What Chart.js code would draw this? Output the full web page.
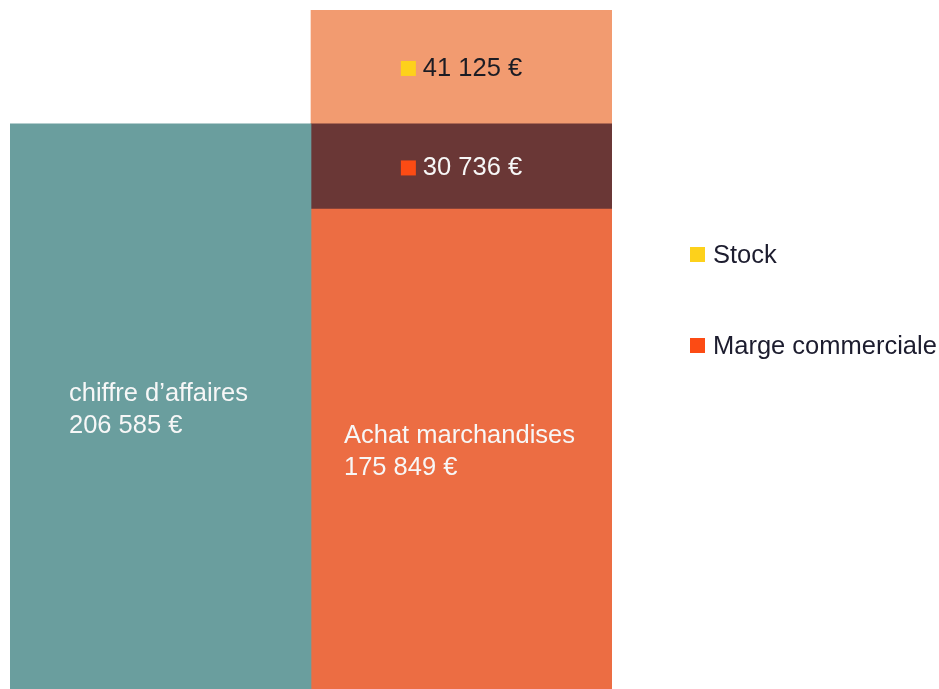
<!DOCTYPE html>
<html lang="fr">
<head>
<meta charset="utf-8">
<title>Chiffre d'affaires et achats</title>
<script src="https://cdn.jsdelivr.net/npm/chart.js@4/dist/chart.umd.min.js"></script>
<style>
  html, body { margin: 0; padding: 0; background: #ffffff; }
  #wrap { width: 939px; height: 689px; }
</style>
</head>
<body>
<div id="wrap"><canvas id="chart" width="939" height="689"></canvas></div>
<script>
// categories (one stacked column each)
const categories = ["Chiffre d'affaires", "Achats"];

// series values
const caValues = [206585, null];
const achatValues = [null, 175849];
const margeValues = [null, 30736];
const stockValues = [null, 41125];

// labels shown inside the bars
const caLabel = "chiffre d\u2019affaires";
const achatLabel = "Achat marchandises";

// legend entries
const legendLabels = ["Stock", "Marge commerciale"];
const legendColors = ["#fdd11b", "#fc4b14"];

// the original picture is cropped just above the zero line
const yAxisMin = 2500;

const FONT = '"Liberation Sans", Arial, sans-serif';
const FONT_SIZE = 25.5;
const TEXT_DY = 2; // "middle" baseline sits a bit high

function euro(v) {
    // french grouping with a space
    return String(v).replace(/\B(?=(\d{3})+(?!\d))/g, " ") + " \u20ac";
}

// text inside the bars + legend on the right
const barLabels = {
    id: "barLabels",
    afterDatasetsDraw(chart) {
        const ctx = chart.ctx;
        ctx.save();
        ctx.font = FONT_SIZE + "px " + FONT;
        ctx.textBaseline = "middle";

        // two-line block, left aligned, centered in its bar
        function block(dsIndex, title, dy) {
            const meta = chart.getDatasetMeta(dsIndex);
            meta.data.forEach((bar, i) => {
                const v = chart.data.datasets[dsIndex].data[i];
                if (v == null) return;
                const lines = [title, euro(v)];
                const w = Math.max(...lines.map(l => ctx.measureText(l).width));
                const left = bar.x - w / 2 - 2;
                const midY = (bar.y + bar.base) / 2 + dy;
                ctx.fillStyle = "#f7f7f7";
                ctx.textAlign = "left";
                ctx.fillText(lines[0], left, midY - 16);
                ctx.fillText(lines[1], left, midY + 16);
            });
        }
        block(0, caLabel, 0);
        block(1, achatLabel, 0);

        // small square + value, centered
        function tag(dsIndex, squareColor, textColor) {
            const meta = chart.getDatasetMeta(dsIndex);
            meta.data.forEach((bar, i) => {
                const v = chart.data.datasets[dsIndex].data[i];
                if (v == null) return;
                const txt = euro(v);
                const tw = ctx.measureText(txt).width;
                const total = 15 + 7 + tw;
                const x0 = bar.x - total / 2;
                const midY = (bar.y + bar.base) / 2;
                ctx.fillStyle = squareColor;
                ctx.fillRect(x0, midY - 6, 15, 15);
                ctx.fillStyle = textColor;
                ctx.textAlign = "left";
                ctx.fillText(txt, x0 + 22, midY + TEXT_DY);
            });
        }
        tag(2, legendColors[1], "#f7f7f7");
        tag(3, legendColors[0], "#1c1c24");

        // legend
        const lx = 690;
        const ly = [254, 345];
        legendLabels.forEach((lbl, i) => {
            ctx.fillStyle = legendColors[i];
            ctx.fillRect(lx, ly[i] - 7, 15, 15);
            ctx.fillStyle = "#1c1c2e";
            ctx.textAlign = "left";
            ctx.fillText(lbl, lx + 23, ly[i] + TEXT_DY);
        });
        ctx.restore();
    }
};

const rightTotal = achatValues[1] + margeValues[1] + stockValues[1];

new Chart(document.getElementById("chart"), {
    type: "bar",
    data: {
        labels: categories,
        datasets: [
            { label: "Chiffre d'affaires", data: caValues, backgroundColor: "#6a9e9e" },
            { label: "Achat marchandises", data: achatValues, backgroundColor: "#ec6d43" },
            { label: "Marge commerciale", data: margeValues, backgroundColor: "#6a3736" },
            { label: "Stock", data: stockValues, backgroundColor: "#f29b70" }
        ]
    },
    options: {
        responsive: false,
        devicePixelRatio: 1,
        animation: false,
        layout: { padding: { top: 10, left: 10, right: 327, bottom: 0 } },
        datasets: {
            bar: { barPercentage: 1, categoryPercentage: 1, borderWidth: 0, skipNull: true, grouped: false }
        },
        scales: {
            x: { stacked: true, display: false },
            y: { stacked: true, display: false, min: yAxisMin, max: rightTotal }
        },
        plugins: {
            legend: { display: false },
            tooltip: { enabled: false }
        }
    },
    plugins: [barLabels]
});
</script>
</body>
</html>
